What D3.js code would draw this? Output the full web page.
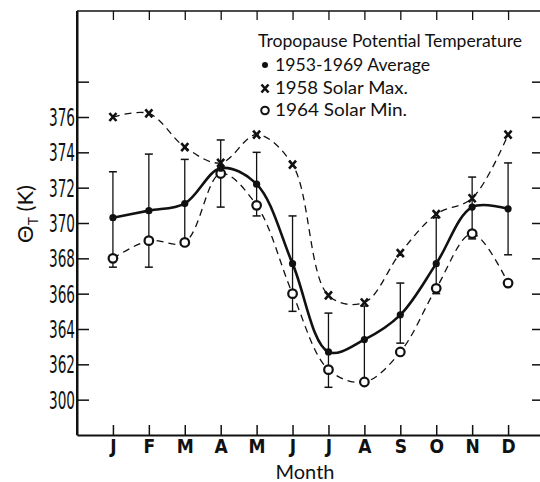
<!DOCTYPE html>
<html>
<head>
<meta charset="utf-8">
<script src="https://cdn.jsdelivr.net/npm/d3@7"></script>
<style>
  html, body { margin: 0; padding: 0; background: #fff; }
  svg { display: block; }
</style>
</head>
<body>
<svg id="chart" width="540" height="482"></svg>
<script>
// ---- data ----
const months = [1,2,3,4,5,6,7,8,9,10,11,12];
const monthLabels = ["J","F","M","A","M","J","J","A","S","O","N","D"];
const average   = [370.3, 370.7, 371.1, 373.1, 372.2, 367.7, 362.7, 363.4, 364.8, 367.7, 370.9, 370.8];
const errHigh   = [372.9, 373.9, 373.6, 374.7, 374.0, 370.4, 364.9, 365.3, 366.6, 370.3, 372.6, 373.4];
const errLow    = [367.5, 367.5, 368.8, 370.9, 370.4, 365.0, 360.7, 361.0, 363.2, 366.0, 369.1, 368.2];
const solarMax  = [376.0, 376.2, 374.3, 373.4, 375.0, 373.3, 365.9, 365.5, 368.3, 370.5, 371.4, 375.0];
const solarMin  = [368.0, 369.0, 368.9, 372.8, 371.0, 366.0, 361.7, 361.0, 362.7, 366.3, 369.4, 366.6];
const yTickValues = [360, 362, 364, 366, 368, 370, 372, 374, 376, 378];
const yTickLabels = ["300", "362", "364", "366", "368", "370", "372", "374", "376", ""];
const legendTitle = "Tropopause Potential Temperature";
const legendItems = ["1953-1969 Average", "1958 Solar Max.", "1964 Solar Min."];

// ---- layout ----
const svg = d3.select("#chart");
const ink = "#111";
const x = d3.scaleLinear().domain([0, 13]).range([77, 544]);
const y = d3.scaleLinear().domain([358, 382]).range([435, 11]);

// frame
const g = svg.append("g");
g.append("line").attr("x1", x(0)).attr("x2", x(13)).attr("y1", y(382)).attr("y2", y(382))
  .attr("stroke", ink).attr("stroke-width", 1.6);
g.append("line").attr("x1", x(0)).attr("x2", x(0)).attr("y1", y(382)).attr("y2", y(358))
  .attr("stroke", ink).attr("stroke-width", 2);
g.append("line").attr("x1", x(13)).attr("x2", x(13)).attr("y1", y(382)).attr("y2", y(358))
  .attr("stroke", ink).attr("stroke-width", 2);

// axes
const leftAxis = d3.axisLeft(y).tickValues(yTickValues).tickSize(-12).tickSizeOuter(0).tickPadding(2)
  .tickFormat((d, i) => yTickLabels[i]);
const la = svg.append("g").attr("transform", `translate(${x(0)},0)`).call(leftAxis);
la.select(".domain").attr("stroke", ink).attr("stroke-width", 2);
la.selectAll(".tick line").attr("stroke", ink).attr("stroke-width", 1.5);
la.selectAll(".tick text")
  .attr("font-family", "'Liberation Sans Narrow', 'DejaVu Sans Condensed', sans-serif")
  .attr("font-size", 24).attr("fill", ink).attr("dy", "0.36em")
  .attr("textLength", 26).attr("lengthAdjust", "spacingAndGlyphs");

const rightAxis = d3.axisRight(y).tickValues(yTickValues).tickSize(-12).tickSizeOuter(0).tickFormat("");
const ra = svg.append("g").attr("transform", `translate(${x(13)},0)`).call(rightAxis);
ra.select(".domain").attr("stroke", "none");
ra.selectAll(".tick line").attr("stroke", ink).attr("stroke-width", 1.5);

const bottomAxis = d3.axisBottom(x).tickValues(months).tickSize(-10).tickSizeOuter(0).tickPadding(4)
  .tickFormat((d, i) => monthLabels[i]);
const ba = svg.append("g").attr("transform", `translate(0,${y(358)})`).call(bottomAxis);
ba.select(".domain").attr("stroke", ink).attr("stroke-width", 2);
ba.selectAll(".tick line").attr("stroke", ink).attr("stroke-width", 1.5);
ba.selectAll(".tick text")
  .attr("font-family", "'Liberation Sans Narrow', 'DejaVu Sans Condensed', sans-serif")
  .attr("font-weight", "bold").attr("font-size", 19).attr("fill", ink);

const topAxis = d3.axisTop(x).tickValues(months).tickSize(-9).tickSizeOuter(0).tickFormat("");
const ta = svg.append("g").attr("transform", `translate(0,${y(382)})`).call(topAxis);
ta.select(".domain").attr("stroke", "none");
ta.selectAll(".tick line").attr("stroke", ink).attr("stroke-width", 1.3);

// axis titles
svg.append("text").attr("x", 305).attr("y", 479).attr("text-anchor", "middle")
  .attr("font-family", "Lato, 'Open Sans', sans-serif").attr("font-size", 20).attr("fill", ink)
  .text("Month");
const yt = svg.append("text").attr("transform", "translate(33,214) rotate(-90)")
  .attr("text-anchor", "middle")
  .attr("font-family", "Lato, 'Open Sans', sans-serif").attr("font-size", 22).attr("fill", ink);
yt.append("tspan").text("\u0398");
yt.append("tspan").attr("font-size", 14).attr("dy", 5).text("T");
yt.append("tspan").attr("dy", -5).text(" (K)");

// lines
const line = d3.line().x((d, i) => x(months[i])).y(d => y(d)).curve(d3.curveCatmullRom.alpha(0.5));
svg.append("path").attr("d", line(solarMax)).attr("fill", "none").attr("stroke", ink)
  .attr("stroke-width", 1.3).attr("stroke-dasharray", "7,5");
svg.append("path").attr("d", line(solarMin)).attr("fill", "none").attr("stroke", ink)
  .attr("stroke-width", 1.3).attr("stroke-dasharray", "7,5");
svg.append("path").attr("d", line(average)).attr("fill", "none").attr("stroke", ink)
  .attr("stroke-width", 2.6);

// error bars
const eb = svg.append("g").attr("stroke", ink);
months.forEach((m, i) => {
  const cx = x(m);
  eb.append("line").attr("x1", cx).attr("x2", cx).attr("y1", y(errHigh[i])).attr("y2", y(errLow[i]))
    .attr("stroke-width", 1.3);
  [errHigh[i], errLow[i]].forEach(v => {
    eb.append("line").attr("x1", cx - 4).attr("x2", cx + 4).attr("y1", y(v)).attr("y2", y(v))
      .attr("stroke-width", 1.5);
  });
});

// markers
function xMark(sel, cx, cy) {
  sel.append("path")
    .attr("d", `M${cx-3.5},${cy-4}L${cx+3.5},${cy+4}M${cx+3.5},${cy-4}L${cx-3.5},${cy+4}`)
    .attr("stroke", ink).attr("stroke-width", 2.6).attr("fill", "none");
}
const mk = svg.append("g");
solarMin.forEach((v, i) => {
  mk.append("circle").attr("cx", x(months[i])).attr("cy", y(v)).attr("r", 4.3)
    .attr("fill", "#fff").attr("stroke", ink).attr("stroke-width", 2.2);
});
solarMax.forEach((v, i) => xMark(mk, x(months[i]), y(v)));
average.forEach((v, i) => {
  mk.append("circle").attr("cx", x(months[i])).attr("cy", y(v)).attr("r", 3.6).attr("fill", ink);
});

// legend
const lg = svg.append("g").attr("font-family", "Lato, 'Open Sans', sans-serif").attr("fill", ink);
lg.append("text").attr("x", 258).attr("y", 47).attr("font-size", 17)
  .attr("textLength", 264).attr("lengthAdjust", "spacingAndGlyphs").text(legendTitle);
const legendY = [71, 94, 116];
const legendW = [155, 133, 132];
legendItems.forEach((t, i) => {
  lg.append("text").attr("x", 275).attr("y", legendY[i]).attr("font-size", 17)
    .attr("textLength", legendW[i]).attr("lengthAdjust", "spacingAndGlyphs").text(t);
});
lg.append("circle").attr("cx", 265).attr("cy", 65).attr("r", 3).attr("fill", ink);
xMark(lg, 265, 88.5);
lg.append("circle").attr("cx", 265).attr("cy", 110.5).attr("r", 3.8)
  .attr("fill", "#fff").attr("stroke", ink).attr("stroke-width", 2);
</script>
</body>
</html>
